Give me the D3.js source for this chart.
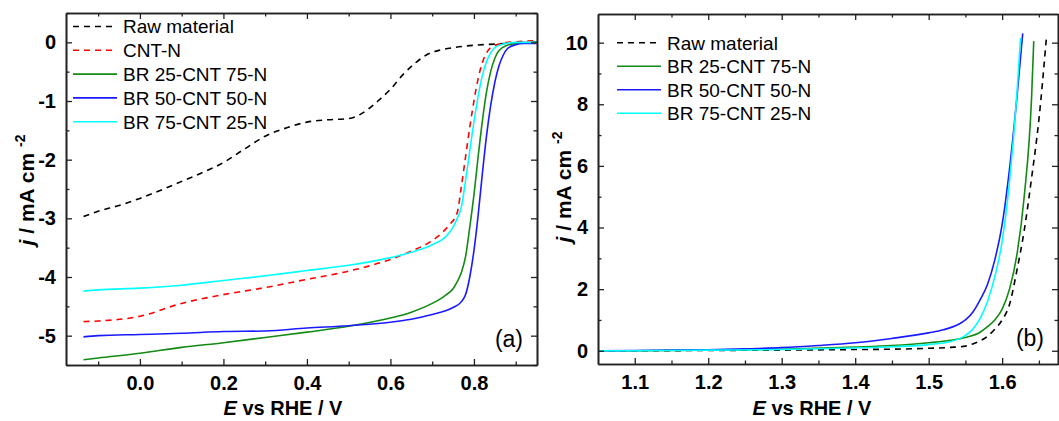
<!DOCTYPE html>
<html>
<head>
<meta charset="utf-8">
<script src="https://cdn.jsdelivr.net/npm/d3@7"></script>
<style>
  body { margin: 0; background: #fff; }
  svg { font-family: "Liberation Sans", Arial, sans-serif; }
</style>
</head>
<body>
<svg id="chart" width="1059" height="421"></svg>
<script>
// legend names
var orrNames = ["Raw material", "CNT-N", "BR 25-CNT 75-N", "BR 50-CNT 50-N", "BR 75-CNT 25-N"];
var oerNames = ["Raw material", "BR 25-CNT 75-N", "BR 50-CNT 50-N", "BR 75-CNT 25-N"];

// panel (a) ORR, E in V, j in mA cm-2
var rawOrrE = [-0.135, -0.1, -0.05, 0.0, 0.05, 0.1, 0.15, 0.2, 0.25, 0.3, 0.35, 0.4, 0.45, 0.5, 0.53, 0.57, 0.6, 0.63, 0.66, 0.69, 0.72, 0.75, 0.8, 0.85, 0.9, 0.95];
var rawOrrJ = [-2.97, -2.88, -2.78, -2.66, -2.52, -2.37, -2.22, -2.05, -1.82, -1.6, -1.46, -1.36, -1.32, -1.3, -1.22, -1.0, -0.8, -0.55, -0.35, -0.2, -0.13, -0.09, -0.05, -0.03, -0.01, 0.01];

var cntOrrE = [-0.135, -0.1, 0.0, 0.1, 0.2, 0.3, 0.4, 0.5, 0.6, 0.65, 0.7, 0.72, 0.74, 0.76, 0.77, 0.78, 0.79, 0.8, 0.81, 0.82, 0.83, 0.84, 0.86, 0.88, 0.9, 0.95];
var cntOrrJ = [-4.76, -4.75, -4.67, -4.45, -4.3, -4.18, -4.04, -3.9, -3.7, -3.56, -3.38, -3.27, -3.12, -2.9, -2.45, -1.95, -1.45, -1.0, -0.62, -0.35, -0.18, -0.09, -0.03, 0.0, 0.01, 0.03];

var br25OrrE = [-0.135, -0.1, 0.0, 0.1, 0.2, 0.3, 0.4, 0.5, 0.6, 0.65, 0.7, 0.73, 0.75, 0.76, 0.77, 0.78, 0.79, 0.8, 0.81, 0.82, 0.83, 0.84, 0.85, 0.86, 0.88, 0.9, 0.95];
var br25OrrJ = [-5.41, -5.38, -5.3, -5.2, -5.12, -5.03, -4.94, -4.84, -4.7, -4.6, -4.45, -4.32, -4.2, -4.08, -3.92, -3.65, -3.15, -2.6, -1.95, -1.35, -0.85, -0.5, -0.27, -0.14, -0.05, -0.02, 0.0];

var br50OrrE = [-0.135, -0.1, 0.0, 0.1, 0.2, 0.3, 0.4, 0.5, 0.6, 0.65, 0.7, 0.73, 0.75, 0.77, 0.78, 0.79, 0.8, 0.81, 0.82, 0.83, 0.84, 0.85, 0.86, 0.87, 0.88, 0.9, 0.92, 0.95];
var br50OrrJ = [-5.02, -5.0, -4.98, -4.96, -4.93, -4.92, -4.87, -4.83, -4.77, -4.72, -4.64, -4.58, -4.52, -4.42, -4.3, -4.0, -3.55, -2.95, -2.25, -1.6, -1.08, -0.68, -0.4, -0.22, -0.11, -0.04, -0.02, -0.02];

var br75OrrE = [-0.135, -0.1, 0.0, 0.1, 0.2, 0.3, 0.4, 0.5, 0.6, 0.65, 0.7, 0.73, 0.75, 0.76, 0.77, 0.78, 0.79, 0.8, 0.81, 0.82, 0.83, 0.84, 0.85, 0.87, 0.9, 0.95];
var br75OrrJ = [-4.24, -4.22, -4.19, -4.14, -4.06, -3.98, -3.89, -3.8, -3.67, -3.58, -3.45, -3.33, -3.15, -3.0, -2.8, -2.35, -1.85, -1.35, -0.92, -0.57, -0.33, -0.18, -0.09, -0.03, 0.0, 0.0];

// panel (b) OER
var rawOerE = [1.05, 1.1, 1.2, 1.3, 1.4, 1.45, 1.5, 1.53, 1.55, 1.56, 1.57, 1.58, 1.59, 1.6, 1.61, 1.62, 1.63, 1.64, 1.65, 1.66];
var rawOerJ = [0.0, 0.0, 0.01, 0.02, 0.04, 0.05, 0.08, 0.11, 0.15, 0.22, 0.32, 0.47, 0.7, 1.0, 1.5, 2.6, 3.9, 5.6, 7.5, 10.1];

var br25OerE = [1.05, 1.1, 1.2, 1.3, 1.4, 1.45, 1.5, 1.53, 1.55, 1.57, 1.58, 1.59, 1.6, 1.61, 1.62, 1.63, 1.64, 1.643];
var br25OerJ = [0.0, 0.0, 0.02, 0.05, 0.12, 0.17, 0.26, 0.34, 0.43, 0.6, 0.78, 1.0, 1.35, 2.0, 3.1, 5.0, 8.2, 10.05];

var br50OerE = [1.05, 1.1, 1.2, 1.25, 1.3, 1.35, 1.4, 1.45, 1.5, 1.52, 1.54, 1.55, 1.56, 1.57, 1.58, 1.59, 1.6, 1.61, 1.62, 1.628];
var br50OerJ = [0.0, 0.01, 0.03, 0.06, 0.1, 0.17, 0.26, 0.4, 0.58, 0.68, 0.85, 1.0, 1.25, 1.65, 2.15, 2.95, 4.1, 5.9, 8.2, 10.3];

var br75OerE = [1.05, 1.1, 1.2, 1.3, 1.4, 1.45, 1.5, 1.53, 1.55, 1.56, 1.57, 1.58, 1.59, 1.6, 1.61, 1.62, 1.625];
var br75OerJ = [0.0, 0.0, 0.02, 0.04, 0.09, 0.13, 0.2, 0.3, 0.5, 0.7, 1.05, 1.6, 2.4, 3.55, 5.5, 8.3, 10.15];

// ticks
var orrXTicks = [0.0, 0.2, 0.4, 0.6, 0.8];
var orrXMinor = [-0.1, 0.1, 0.3, 0.5, 0.7, 0.9];
var orrYTicks = [0, -1, -2, -3, -4, -5];
var orrYMinor = [0.5, -0.5, -1.5, -2.5, -3.5, -4.5, -5.5];
var oerXTicks = [1.1, 1.2, 1.3, 1.4, 1.5, 1.6];
var oerXMinor = [1.15, 1.25, 1.35, 1.45, 1.55, 1.65];
var oerYTicks = [0, 2, 4, 6, 8, 10];
var oerYMinor = [1, 3, 5, 7, 9];

var colors = { raw: "#000000", cnt: "#ff0000", br25: "#138a13", br50: "#1a1aff", br75: "#00ffff" };

function zip(xs, ys) {
    return xs.map(function(x, i) { return [x, ys[i]]; });
}

var svg = d3.select("#chart");

function panel(opt) {
    var g = svg.append("g");
    var x = d3.scaleLinear().domain(opt.xDomain).range([opt.left, opt.right]);
    var y = d3.scaleLinear().domain(opt.yDomain).range([opt.bottom, opt.top]);
    var fmtX = function(d) { return d3.format(".1f")(d).replace("−", "-"); };
    var fmtY = function(d) { return String(d).replace("−", "-"); };

    var clipId = "clip" + opt.id;
    svg.append("clipPath").attr("id", clipId)
        .append("rect")
        .attr("x", opt.left).attr("y", opt.top)
        .attr("width", opt.right - opt.left).attr("height", opt.bottom - opt.top);

    var line = d3.line()
        .x(function(d) { return x(d[0]); })
        .y(function(d) { return y(d[1]); })
        .curve(d3.curveMonotoneX);

    opt.series.forEach(function(s) {
        g.append("path")
            .attr("clip-path", "url(#" + clipId + ")")
            .attr("d", line(zip(s.e, s.j)))
            .attr("fill", "none")
            .attr("stroke", s.color)
            .attr("stroke-width", 1.6)
            .attr("stroke-dasharray", s.dash ? "6,5" : null);
    });

    // axes, ticks pointing inward, mirrored on top and right
    g.append("g").attr("transform", "translate(0," + opt.bottom + ")")
        .call(d3.axisBottom(x).tickValues(opt.xTicks).tickFormat(fmtX).tickSizeInner(-6).tickSizeOuter(0).tickPadding(11));
    g.append("g").attr("transform", "translate(0," + opt.bottom + ")")
        .call(d3.axisBottom(x).tickValues(opt.xMinor).tickFormat("").tickSizeInner(-3.5).tickSizeOuter(0));
    g.append("g").attr("transform", "translate(0," + opt.top + ")")
        .call(d3.axisTop(x).tickValues(opt.xTicks).tickFormat("").tickSizeInner(-6).tickSizeOuter(0));
    g.append("g").attr("transform", "translate(0," + opt.top + ")")
        .call(d3.axisTop(x).tickValues(opt.xMinor).tickFormat("").tickSizeInner(-3.5).tickSizeOuter(0));

    g.append("g").attr("transform", "translate(" + opt.left + ",0)")
        .call(d3.axisLeft(y).tickValues(opt.yTicks).tickFormat(fmtY).tickSizeInner(-6).tickSizeOuter(0).tickPadding(10));
    g.append("g").attr("transform", "translate(" + opt.left + ",0)")
        .call(d3.axisLeft(y).tickValues(opt.yMinor).tickFormat("").tickSizeInner(-3.5).tickSizeOuter(0));
    g.append("g").attr("transform", "translate(" + opt.right + ",0)")
        .call(d3.axisRight(y).tickValues(opt.yTicks).tickFormat("").tickSizeInner(-6).tickSizeOuter(0));
    g.append("g").attr("transform", "translate(" + opt.right + ",0)")
        .call(d3.axisRight(y).tickValues(opt.yMinor).tickFormat("").tickSizeInner(-3.5).tickSizeOuter(0));

    g.selectAll(".domain").attr("stroke", "#222").attr("stroke-width", 1.6);
    g.selectAll(".tick line").attr("stroke", "#222").attr("stroke-width", 1.3);
    g.selectAll(".tick text")
        .attr("font-family", "Liberation Sans, Arial, sans-serif")
        .attr("font-size", "20px")
        .attr("font-weight", "bold")
        .attr("fill", "#000");

    // x title
    var xt = g.append("text")
        .attr("x", opt.xTitleX)
        .attr("y", 415)
        .attr("text-anchor", "middle")
        .attr("font-size", "20px")
        .attr("font-weight", "bold");
    xt.append("tspan").attr("font-style", "italic").text("E");
    xt.append("tspan").text(" vs RHE / V");

    // y title
    var yt = g.append("text")
        .attr("transform", "translate(" + opt.yTitleX + "," + opt.yTitleY + ") rotate(-90)")
        .attr("text-anchor", "middle")
        .attr("font-size", "21px")
        .attr("font-weight", "bold");
    yt.append("tspan").attr("font-style", "italic").text("j");
    yt.append("tspan").text(" / mA cm ");
    yt.append("tspan").attr("font-size", "14px").attr("dy", "-9").text("-2");

    // panel letter
    g.append("text")
        .attr("x", opt.right - 14)
        .attr("y", opt.bottom - 18)
        .attr("text-anchor", "end")
        .attr("font-size", "23px")
        .text(opt.letter);

    // legend
    var leg = g.selectAll(".leg")
        .data(opt.series)
        .enter()
        .append("g")
        .attr("transform", function(d, i) { return "translate(" + opt.legX + "," + (opt.legY + i * opt.legStep) + ")"; });
    leg.append("line")
        .attr("x1", 0).attr("x2", 44).attr("y1", 0).attr("y2", 0)
        .attr("stroke", function(d) { return d.color; })
        .attr("stroke-width", 1.6)
        .attr("stroke-dasharray", function(d) { return d.dash ? "6,5" : null; });
    leg.append("text")
        .attr("x", 50)
        .attr("dy", "0.36em")
        .attr("font-size", "19px")
        .text(function(d) { return d.name; });
}

panel({
    id: "a", letter: "(a)",
    left: 66, right: 537, top: 13, bottom: 365,
    xDomain: [-0.177, 0.951], yDomain: [-5.5, 0.5],
    xTicks: orrXTicks, xMinor: orrXMinor, yTicks: orrYTicks, yMinor: orrYMinor,
    xTitleX: 283, yTitleX: 34, yTitleY: 190,
    legX: 73, legY: 26.5, legStep: 23.8,
    series: [
        { name: orrNames[0], e: rawOrrE, j: rawOrrJ, color: colors.raw, dash: true },
        { name: orrNames[1], e: cntOrrE, j: cntOrrJ, color: colors.cnt, dash: true },
        { name: orrNames[2], e: br25OrrE, j: br25OrrJ, color: colors.br25 },
        { name: orrNames[3], e: br50OrrE, j: br50OrrJ, color: colors.br50 },
        { name: orrNames[4], e: br75OrrE, j: br75OrrJ, color: colors.br75 }
    ]
});

panel({
    id: "b", letter: "(b)",
    left: 598, right: 1058, top: 14, bottom: 364,
    xDomain: [1.05, 1.676], yDomain: [-0.43, 10.93],
    xTicks: oerXTicks, xMinor: oerXMinor, yTicks: oerYTicks, yMinor: oerYMinor,
    xTitleX: 812, yTitleX: 571, yTitleY: 187,
    legX: 617, legY: 42.7, legStep: 23.5,
    series: [
        { name: oerNames[0], e: rawOerE, j: rawOerJ, color: colors.raw, dash: true },
        { name: oerNames[1], e: br25OerE, j: br25OerJ, color: colors.br25 },
        { name: oerNames[2], e: br50OerE, j: br50OerJ, color: colors.br50 },
        { name: oerNames[3], e: br75OerE, j: br75OerJ, color: colors.br75 }
    ]
});
</script>
</body>
</html>
